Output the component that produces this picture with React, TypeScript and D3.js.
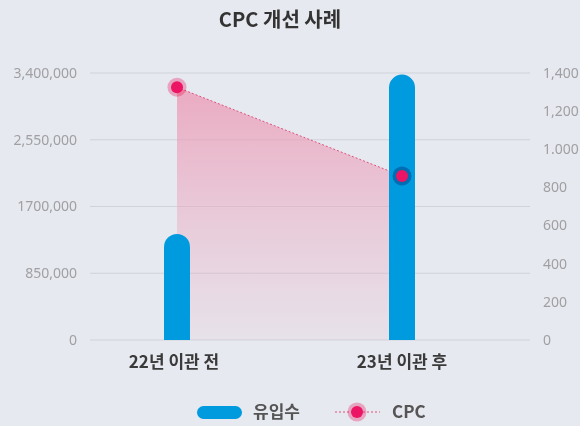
import React from "react";
import * as d3 from "d3";

const categories = ["22년 이관 전", "23년 이관 후"];
const visits = [1350000, 3380000];
const cpc = [1325, 860];
const leftTicks = [0, 850000, 1700000, 2550000, 3400000];
const leftTickLabels = ["0", "850,000", "1700,000", "2,550,000", "3,400,000"];
const rightTicks = [0, 200, 400, 600, 800, 1000, 1200, 1400];
const rightTickLabels = ["0", "200", "400", "600", "800", "1.000", "1,200", "1,400"];

const W = 580, H = 426;
const FONT = "'Noto Sans CJK KR', 'Noto Sans', sans-serif";
const TICKFONT = "'Noto Sans', 'Open Sans', sans-serif";

export default function App() {
  const x = d3.scalePoint<string>().domain(categories).range([177, 402]);
  const yL = d3.scaleLinear().domain([0, 3400000]).range([340, 73]);
  const yR = d3.scaleLinear().domain([0, 1400]).range([340, 73]);
  const bw = 26;
  const r = bw / 2;

  const pts: [number, number][] = categories.map((c, i) => [x(c)!, yR(cpc[i])]);
  const area = d3.area<[number, number]>().x(d => d[0]).y0(yR(0)).y1(d => d[1]);
  const line = d3.line<[number, number]>().x(d => d[0]).y(d => d[1]);

  const barPath = (cx: number, v: number) => {
    const top = yL(v);
    const bottom = yL(0);
    const l = cx - r, rr = cx + r;
    return `M${l},${bottom} L${l},${top + r} A${r},${r} 0 0 1 ${rr},${top + r} L${rr},${bottom} Z`;
  };

  const halo = "rgb(255,180,205)";

  return (
    <svg width={W} height={H} style={{ position: "absolute", left: 0, top: 0, display: "block" }}>
      <defs>
        <linearGradient id="pinkGrad" x1="0" y1="0" x2="0" y2="1">
          <stop offset="0%" stopColor="rgb(236,150,178)" stopOpacity={0.75} />
          <stop offset="100%" stopColor="rgb(236,170,195)" stopOpacity={0.12} />
        </linearGradient>
      </defs>
      <rect x={0} y={0} width={W} height={H} fill="#e6e9ef" />
      <text x={280} y={20} dy="0.35em" textAnchor="middle" fontFamily={FONT} fontWeight={700} fontSize={20} fill="#333">CPC 개선 사례</text>

      {leftTicks.map((t, i) => (
        <g key={"l" + i}>
          <line x1={90} x2={530} y1={yL(t)} y2={yL(t)} stroke="#cfd3da" strokeWidth={1} />
          <text x={77} y={yL(t)} dy="0.35em" textAnchor="end" fontFamily={TICKFONT} fontSize={14} fill="#a0a0a4">{leftTickLabels[i]}</text>
        </g>
      ))}
      {rightTicks.map((t, i) => (
        <text key={"r" + i} x={543} y={yR(t)} dy="0.35em" textAnchor="start" fontFamily={TICKFONT} fontSize={14} fill="#a0a0a4">{rightTickLabels[i]}</text>
      ))}

      <path d={area(pts)!} fill="url(#pinkGrad)" />
      <path d={line(pts)!} fill="none" stroke="#e0507f" strokeWidth={1} strokeDasharray="2,2" />

      {categories.map((c, i) => (
        <path key={"b" + i} d={barPath(x(c)!, visits[i])} fill="#009ade" />
      ))}

      {pts.map((p, i) => (
        <g key={"p" + i}>
          <circle cx={p[0]} cy={p[1]} r={9.5} fill={halo} style={{ mixBlendMode: "multiply" }} />
          <circle cx={p[0]} cy={p[1]} r={6} fill="#ec1464" />
        </g>
      ))}

      {categories.map((c, i) => (
        <text key={"c" + i} x={x(c)! - (i === 0 ? 3 : 0)} y={362} dy="0.35em" textAnchor="middle" fontFamily={FONT} fontWeight={700} fontSize={17} fill="#3a3a3a">{c}</text>
      ))}

      <rect x={197} y={406} width={45} height={13} rx={6.5} fill="#009ade" />
      <text x={253} y={412} dy="0.35em" fontFamily={FONT} fontWeight={700} fontSize={17} fill="#555">유입수</text>
      <line x1={335} x2={380} y1={412} y2={412} stroke="#e0507f" strokeWidth={1} strokeDasharray="2,2" />
      <circle cx={357} cy={412} r={9.5} fill={halo} style={{ mixBlendMode: "multiply" }} />
      <circle cx={357} cy={412} r={6} fill="#ec1464" />
      <text x={392} y={412} dy="0.35em" fontFamily={FONT} fontWeight={700} fontSize={17} fill="#555">CPC</text>
    </svg>
  );
}
